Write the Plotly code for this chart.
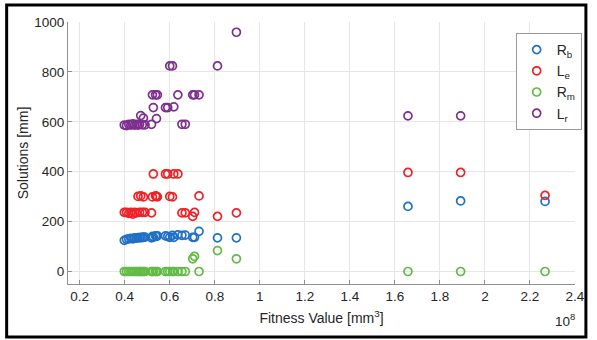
import plotly.graph_objects as go

# Fitness value of each candidate solution (in units of 1e8 mm^3)
fitness = [0.398, 0.408, 0.418, 0.427, 0.436, 0.444, 0.452, 0.459, 0.466, 0.471,
           0.478, 0.483, 0.490, 0.519, 0.523, 0.527, 0.537, 0.541, 0.545, 0.581,
           0.591, 0.600, 0.612, 0.618, 0.636, 0.654, 0.669, 0.702, 0.710, 0.730,
           0.812, 0.896, 1.658, 1.892, 2.267]

# Design parameters of each solution [mm]
r_b = [125, 129, 131, 133, 131, 135, 134, 136, 135, 137,
       136, 138, 138, 135, 141, 138, 143, 141, 143, 143,
       141, 137, 145, 137, 147, 145, 146, 137, 137, 161,
       135, 135, 261, 283, 281]
l_e = [237, 237, 233, 237, 230, 237, 235, 301, 237, 303,
       237, 299, 237, 235, 299, 391, 303, 301, 299, 391,
       391, 301, 299, 391, 391, 235, 235, 221, 237, 303,
       221, 235, 397, 397, 305]
r_m = [0, 0, 0, 0, 0, 0, 0, 0, 0, 0,
       0, 0, 0, 0, 0, 0, 0, 0, 0, 0,
       0, 0, 0, 0, 0, 0, 0, 51, 61, 0,
       84, 51, 0, 0, 0]
l_r = [587, 585, 590, 587, 592, 587, 590, 587, 590, 625,
       588, 615, 588, 590, 708, 657, 708, 613, 708, 657,
       657, 824, 824, 660, 708, 590, 590, 708, 708, 708,
       824, 959, 624, 624, 624]

series_names = ["R<sub>b</sub>", "L<sub>e</sub>", "R<sub>m</sub>", "L<sub>r</sub>"]
series_values = [r_b, l_e, r_m, l_r]
series_colors = ["#2070c4", "#ee2227", "#62bb45", "#7e2f8e"]

x_ticks = [0.2, 0.4, 0.6, 0.8, 1.0, 1.2, 1.4, 1.6, 1.8, 2.0, 2.2, 2.4]
x_tick_labels = ["0.2", "0.4", "0.6", "0.8", "1", "1.2", "1.4", "1.6", "1.8", "2", "2.2", "2.4"]
y_ticks = [0, 200, 400, 600, 800, 1000]

FONT = "Liberation Sans, Arial, Helvetica, sans-serif"
TEXT = "#262626"

fig = go.Figure()
for name, vals, col in zip(series_names, series_values, series_colors):
    fig.add_trace(go.Scatter(
        x=fitness, y=vals, mode="markers", name=name,
        marker=dict(symbol="circle-open", size=8, color=col,
                    line=dict(width=1.7, color=col)),
    ))

axis_common = dict(
    showgrid=True, gridcolor="#e6e6e6", gridwidth=1,
    showline=True, linecolor="#8f8f8f", linewidth=1,
    ticks="inside", ticklen=4, tickcolor="#8f8f8f",
    tickfont=dict(family=FONT, size=13.5, color=TEXT),
    zeroline=False, mirror=False,
)

fig.update_layout(
    width=597, height=340,
    margin=dict(l=68, r=17, t=22, b=56),
    paper_bgcolor="white", plot_bgcolor="white",
    font=dict(family=FONT, color=TEXT),
    xaxis=dict(range=[0.148, 2.4], tickvals=x_ticks, ticktext=x_tick_labels,
               title=dict(text="Fitness Value [mm<sup>3</sup>]",
                          font=dict(family=FONT, size=14, color=TEXT), standoff=9),
               **axis_common),
    yaxis=dict(range=[-50, 1000], tickvals=y_ticks,
               title=dict(text="Solutions [mm]",
                          font=dict(family=FONT, size=14, color=TEXT), standoff=2),
               **axis_common),
    legend=dict(x=0.883, y=0.958, xanchor="left", yanchor="top",
                bgcolor="white", bordercolor="#9a9a9a", borderwidth=1,
                font=dict(family=FONT, size=14, color=TEXT),
                itemwidth=30, tracegroupgap=0),
    showlegend=True,
)

# Exponent label for the x axis
fig.add_annotation(text="10<sup>8</sup>", xref="paper", yref="paper",
                   x=0.98, y=-0.095, xanchor="center", yanchor="top", showarrow=False,
                   font=dict(family=FONT, size=13.5, color=TEXT))

# Black frame around the whole figure
fig.add_shape(type="rect", xref="paper", yref="paper",
              x0=-0.121, x1=1.0215, y0=-0.202, y1=1.065,
              line=dict(color="black", width=3), layer="above")

fig.write_html("out.html")
